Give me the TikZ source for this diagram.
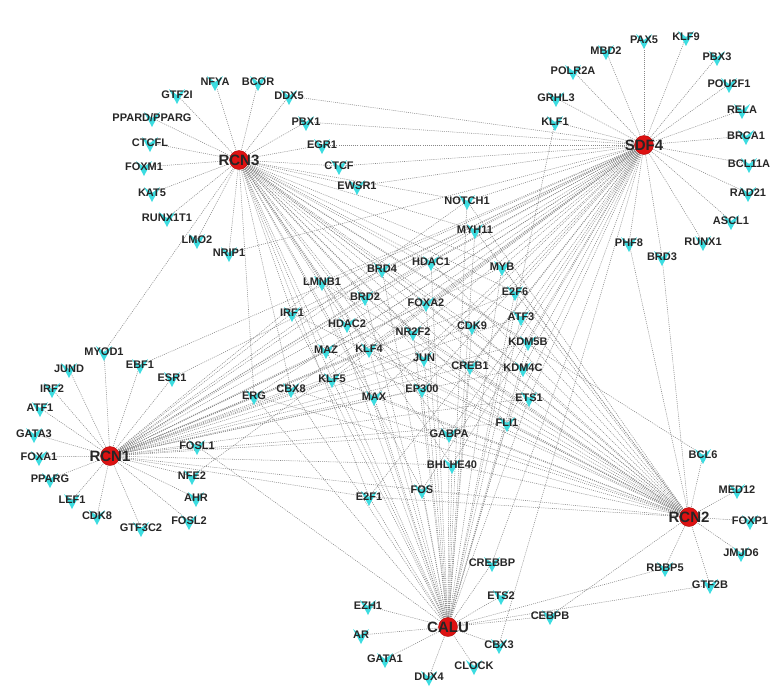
\documentclass[tikz,border=0pt]{standalone}
\usepackage{fontspec}
\setmainfont{Liberation Sans}
\usetikzlibrary{backgrounds}
\definecolor{veecol}{RGB}{60,220,224}
\definecolor{hubcol}{RGB}{222,18,18}
\definecolor{hubedge}{RGB}{170,10,10}
\definecolor{labcol}{RGB}{38,38,38}
\definecolor{edgecol}{RGB}{135,135,135}
\tikzset{
  edge/.style={draw=edgecol, line width=0.55pt, dash pattern=on 1pt off 1.1pt},
  vee/.style={fill=veecol},
  tflab/.style={font=\bfseries\fontsize{11}{12}\selectfont, text=labcol, inner sep=0pt},
  hub/.style={circle, fill=hubcol, draw=hubedge, line width=0.4pt, minimum size=19pt, inner sep=0pt},
  hublab/.style={font=\bfseries\fontsize{15}{16}\selectfont, text=labcol, inner sep=0pt}
}
\begin{document}
\begin{tikzpicture}[x=1pt, y=-1pt]
\useasboundingbox (0,0) rectangle (778,689);
% hubs
\foreach \n/\x/\y in {RCN3/239/160, SDF4/644/145, RCN1/110/456, RCN2/689/517, CALU/448/627}{
  \node[hub] (\n) at (\x,\y) {};
}
% transcription factors
\foreach \n/\x/\y in {
  NFYA/215/82, BCOR/258/82, DDX5/289/96, GTF2I/177/95, PBX1/306/122,
  CTCFL/150/143, EGR1/322/145, FOXM1/144/167, CTCF/339/166, KAT5/152/193,
  EWSR1/357/186, RUNX1T1/167/218, LMO2/197/240, NRIP1/229/253,
  PAX5/644/40, KLF9/686/37, MBD2/606/51, PBX3/717/57, POLR2A/573/71,
  POU2F1/729/84, GRHL3/556/98, RELA/742/110, KLF1/555/122, BRCA1/746/136,
  BCL11A/749/164, RAD21/748/193, ASCL1/731/221, RUNX1/703/242, PHF8/629/243,
  BRD3/662/257,
  NOTCH1/467/201, MYH11/475/230, HDAC1/431/262, MYB/502/267, BRD4/382/269,
  LMNB1/322/282, E2F6/515/292, BRD2/365/297, FOXA2/426/303, IRF1/292/313,
  ATF3/521/317, HDAC2/347/324, CDK9/472/326, NR2F2/413/332, KDM5B/528/342,
  MAZ/326/350, KLF4/369/349, JUN/424/358, CREB1/470/366, KDM4C/523/368,
  KLF5/332/379, CBX8/291/389, ERG/254/396, MAX/374/397, EP300/422/389,
  ETS1/529/398, FLI1/507/423, GABPA/449/434, BHLHE40/452/465, FOS/422/490,
  E2F1/369/497,
  MYOD1/104/352, JUND/69/369, EBF1/140/365, ESR1/172/378, IRF2/52/389,
  ATF1/40/408, GATA3/34/434, FOXA1/39/457, FOSL1/197/446, PPARG/50/479,
  NFE2/192/476, AHR/196/498, LEF1/72/500, CDK8/97/516, FOSL2/189/521,
  GTF3C2/141/528,
  BCL6/703/455, MED12/737/490, FOXP1/750/521, JMJD6/741/553, RBBP5/665/568,
  GTF2B/710/585,
  CREBBP/492/563, ETS2/501/596, EZH1/368/606, CEBPB/550/616, AR/361/635,
  CBX3/499/645, GATA1/385/659, CLOCK/474/666, DUX4/429/677}{
  \coordinate (\n) at (\x,\y);
  \fill[vee] (\n) ++(-8,-6) -- ++(8,6) -- ++(8,-6) -- ++(-8,15) -- cycle;
  \node[tflab] at (\n) {\n};
}
\coordinate (PPARDPPARG) at (152,118);
\fill[vee] (PPARDPPARG) ++(-8,-6) -- ++(8,6) -- ++(8,-6) -- ++(-8,15) -- cycle;
\node[tflab] at (PPARDPPARG) {PPARD/PPARG};
% hub labels
\foreach \n in {RCN3,SDF4,RCN1,RCN2,CALU}{
  \node[hublab] at (\n) {\n};
}
% connectors
\begin{scope}[on background layer]
\foreach \t in {NFYA,BCOR,DDX5,GTF2I,PPARDPPARG,PBX1,CTCFL,EGR1,FOXM1,CTCF,KAT5,EWSR1,RUNX1T1,LMO2,NRIP1,MYOD1,BCL6}
  {\draw[edge] (RCN3.center) -- (\t);}
\foreach \t in {PAX5,KLF9,MBD2,PBX3,POLR2A,POU2F1,GRHL3,RELA,KLF1,BRCA1,BCL11A,RAD21,ASCL1,RUNX1,PHF8,BRD3,DDX5,PBX1,EGR1,CTCF,EWSR1,NRIP1,EBF1,ESR1,NFE2,CREBBP,CBX3}
  {\draw[edge] (SDF4.center) -- (\t);}
\foreach \t in {MYOD1,JUND,EBF1,ESR1,IRF2,ATF1,GATA3,FOXA1,FOSL1,PPARG,NFE2,AHR,LEF1,CDK8,FOSL2,GTF3C2}
  {\draw[edge] (RCN1.center) -- (\t);}
\foreach \t in {BCL6,MED12,FOXP1,JMJD6,RBBP5,GTF2B,PHF8,BRD3,CEBPB}
  {\draw[edge] (RCN2.center) -- (\t);}
\foreach \t in {CREBBP,ETS2,EZH1,CEBPB,AR,CBX3,GATA1,CLOCK,DUX4,KLF1,FOSL1,RBBP5,GTF2B}
  {\draw[edge] (CALU.center) -- (\t);}
\foreach \t in {NOTCH1,MYH11,HDAC1,MYB,BRD4,LMNB1,E2F6,BRD2,FOXA2,IRF1,ATF3,HDAC2,CDK9,NR2F2,KDM5B,MAZ,KLF4,JUN,CREB1,KDM4C,KLF5,CBX8,ERG,MAX,EP300,ETS1,FLI1,GABPA,BHLHE40,FOS,E2F1}
  {\foreach \h in {RCN3,SDF4,RCN1,RCN2,CALU}{\draw[edge] (\h.center) -- (\t);}}
\end{scope}
\end{tikzpicture}
\end{document}
